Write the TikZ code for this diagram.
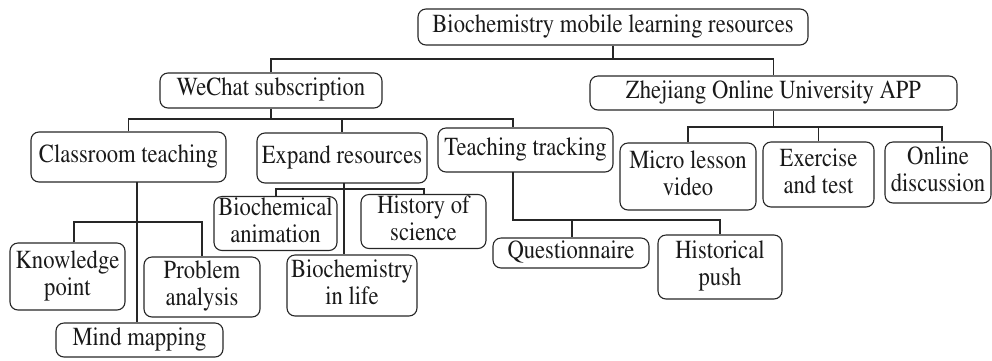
\documentclass[tikz,border=0pt]{standalone}
\usepackage[T1]{fontenc}
\usepackage{mathptmx}
\usepackage{graphicx}
\newcommand\tx[1]{\scalebox{0.87}[1]{\begin{tabular}{@{}c@{}}#1\end{tabular}}}
\begin{document}
\begin{tikzpicture}[x=1pt,y=-1pt,
  box/.style={draw=black!85, line width=1.1pt, rounded corners=8pt, inner sep=0pt, align=center,
    font=\fontsize{26}{27}\selectfont, text=black!90},
  link/.style={draw=black!85, line width=1.1pt}]
\useasboundingbox (0,0) rectangle (992,360);
\node[box, minimum width=390, minimum height=36] (root) at (613,27) {\tx{Biochemistry mobile learning resources}};
\node[box, minimum width=222, minimum height=35] (wechat) at (271,90.5) {\tx{WeChat subscription}};
\node[box, minimum width=367, minimum height=34] (zj) at (773.5,93) {\tx{Zhejiang Online University APP}};
\node[box, minimum width=195, minimum height=50] (class) at (128.5,157) {\tx{Classroom teaching}};
\node[box, minimum width=170, minimum height=50] (expand) at (342,158) {\tx{Expand resources}};
\node[box, minimum width=175, minimum height=44] (track) at (525.5,150) {\tx{Teaching tracking}};
\node[box, minimum width=136, minimum height=67] (micro) at (688,176.5) {\tx{Micro lesson\\video}};
\node[box, minimum width=111, minimum height=65] (exer) at (818.5,174.5) {\tx{Exercise\\and test}};
\node[box, minimum width=106, minimum height=61] (online) at (938,172.5) {\tx{Online\\discussion}};
\node[box, minimum width=115, minimum height=67] (know) at (67.5,276.5) {\tx{Knowledge\\point}};
\node[box, minimum width=116, minimum height=60] (prob) at (202,287) {\tx{Problem\\analysis}};
\node[box, minimum width=167, minimum height=34] (mind) at (139.5,340) {\tx{Mind mapping}};
\node[box, minimum width=123, minimum height=53] (bioanim) at (275.5,223.5) {\tx{Biochemical\\animation}};
\node[box, minimum width=125, minimum height=53] (hist) at (423.5,221.5) {\tx{History of\\science}};
\node[box, minimum width=130, minimum height=61] (biolife) at (352,285.5) {\tx{Biochemistry\\in life}};
\node[box, minimum width=156, minimum height=30] (quest) at (571,253) {\tx{Questionnaire}};
\node[box, minimum width=124, minimum height=64] (histpush) at (720,267) {\tx{Historical\\push}};
% root
\coordinate (rb) at (613,59);
\draw[link] (root.south) -- (rb);
\draw[link] (wechat.north) |- (rb) -| (zj.north);
% wechat
\coordinate (wb) at (271,119);
\coordinate (trk) at (513,119);
\draw[link] (wechat.south) -- (wb);
\draw[link] (class.north) |- (wb) -| (expand.north);
\draw[link] (wb) -- (trk) -- (trk |- track.north);
% zhejiang
\coordinate (zb) at (773.5,127);
\coordinate (onl) at (942,127);
\draw[link] (zj.south) -- (zb);
\draw[link] (micro.north) |- (zb) -| (exer.north);
\draw[link] (zb) -- (onl) -- (onl |- online.north);
% classroom
\coordinate (cs) at (137,182);
\coordinate (kn) at (74,222);
\draw[link] (cs) -- (cs |- mind.north);
\draw[link] (kn |- know.north) -- (kn) -| (prob.north);
% expand
\coordinate (es) at (344,183);
\coordinate (ba) at (276,189);
\coordinate (hs) at (424,189);
\draw[link] (es) -- (es |- biolife.north);
\draw[link] (ba |- bioanim.north) -- (ba) -- (hs) -- (hs |- hist.north);
% tracking
\coordinate (ts) at (513,172);
\coordinate (tb) at (513,220);
\coordinate (qs) at (572,220);
\draw[link] (ts) -- (tb) -| (histpush.north);
\draw[link] (qs) -- (qs |- quest.north);
\end{tikzpicture}
\end{document}
